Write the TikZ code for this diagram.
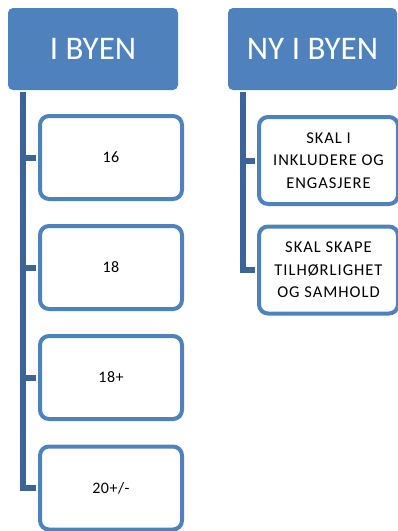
\documentclass[tikz,border=0pt]{standalone}
\usepackage{fontspec}
\setmainfont{Carlito}
\definecolor{hdr}{HTML}{4F81BD}
\definecolor{conncol}{HTML}{3C6596}
\begin{document}
\begin{tikzpicture}[x=1pt,y=-1pt,
  header/.style={fill=hdr,draw=none,rounded corners=5pt,text=white,
    font=\fontsize{33}{36}\selectfont,inner sep=0pt},
  child/.style={draw=hdr,line width=4pt,fill=white,rounded corners=9pt,inner sep=0pt,
    align=center,text=black},
  numtext/.style={font=\fontsize{16}{18}\selectfont\addfontfeature{LetterSpace=3}},
  captext/.style={font=\fontsize{16.5}{22.5}\selectfont\addfontfeature{LetterSpace=6}},
  conn/.style={draw=conncol,line width=6pt}]
\useasboundingbox (0,0) rectangle (398,531);
\clip (0,0) rectangle (398,531);
% headers
\node[header,minimum width=170pt,minimum height=82pt] (hl) at (93,49) {I BYEN};
\node[header,minimum width=169pt,minimum height=82pt] (hr) at (312.5,49) {NY I BYEN};
% left children
\node[child,numtext,minimum width=142pt,minimum height=83pt] (b1) at (111,157.5) {16};
\node[child,numtext,minimum width=142pt,minimum height=83pt] (b2) at (111,267.5) {18};
\node[child,numtext,minimum width=142pt,minimum height=83pt] (b3) at (111,377.5) {18+};
\node[child,numtext,minimum width=142pt,minimum height=83pt] (b4) at (111,488) {20+/-};
% right children
\node[child,captext,minimum width=139pt,minimum height=87pt] (r1) at (328.5,160.5) {SKAL I\\INKLUDERE OG\\ENGASJERE};
\node[child,captext,minimum width=139pt,minimum height=87pt] (r2) at (328.5,270) {SKAL SKAPE\\TILHØRLIGHET\\OG SAMHOLD};
% connectors
\coordinate (lv) at ([xshift=15pt]hl.south west);
\coordinate (rv) at ([xshift=15pt]hr.south west);
\draw[conn] ([yshift=-2pt]lv) |- ([xshift=-2pt]b4.west);
\draw[conn] (lv |- b1.west) -- ([xshift=-2pt]b1.west);
\draw[conn] (lv |- b2.west) -- ([xshift=-2pt]b2.west);
\draw[conn] (lv |- b3.west) -- ([xshift=-2pt]b3.west);
\draw[conn] ([yshift=-2pt]rv) |- ([xshift=-2pt]r2.west);
\draw[conn] (rv |- r1.west) -- ([xshift=-2pt]r1.west);
\end{tikzpicture}
\end{document}
